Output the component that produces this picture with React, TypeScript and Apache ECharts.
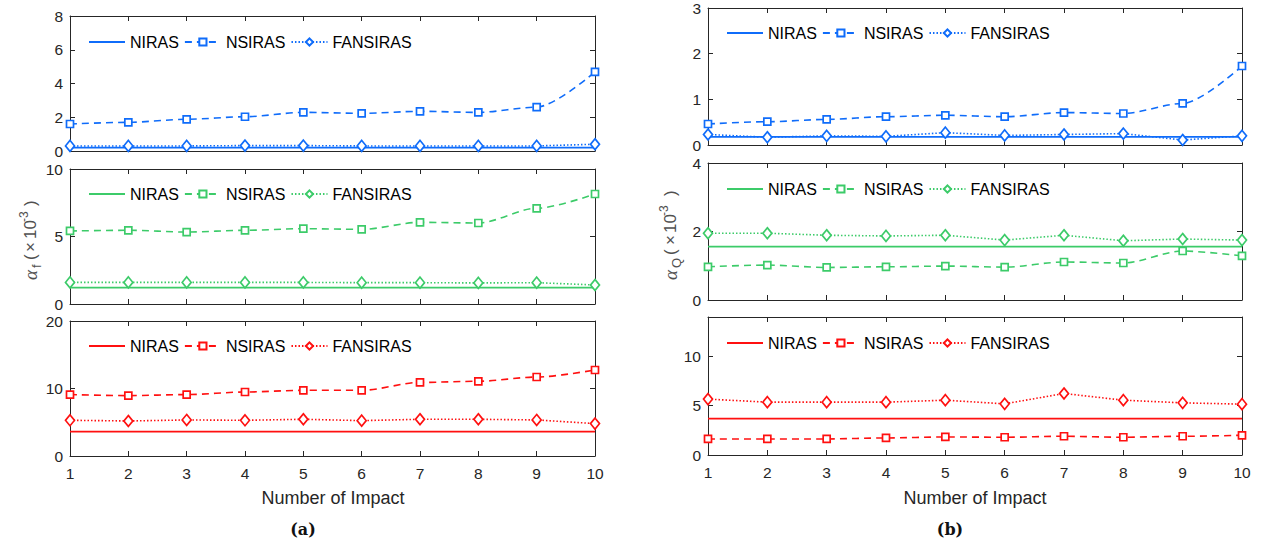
import React, { useEffect, useRef } from 'react';
import * as echarts from 'echarts';

const impacts = [1, 2, 3, 4, 5, 6, 7, 8, 9, 10];
const methodNames = ['NIRAS', 'NSIRAS', 'FANSIRAS'];

// (a) alpha_f (x 10^-3)
const fBlueNIRAS = [0.2, 0.2, 0.2, 0.2, 0.2, 0.2, 0.2, 0.2, 0.2, 0.2];
const fBlueNSIRAS = [1.6, 1.7, 1.88, 2.03, 2.29, 2.23, 2.35, 2.29, 2.6, 4.69];
const fBlueFANSIRAS = [0.3, 0.3, 0.3, 0.32, 0.32, 0.3, 0.3, 0.3, 0.3, 0.4];

const fGreenNIRAS = [1.21, 1.21, 1.21, 1.21, 1.21, 1.21, 1.21, 1.21, 1.21, 1.21];
const fGreenNSIRAS = [5.41, 5.46, 5.33, 5.46, 5.58, 5.53, 6.05, 6.0, 7.09, 8.15];
const fGreenFANSIRAS = [1.6, 1.6, 1.6, 1.6, 1.6, 1.58, 1.58, 1.56, 1.58, 1.41];

const fRedNIRAS = [3.6, 3.6, 3.6, 3.6, 3.6, 3.6, 3.6, 3.6, 3.6, 3.6];
const fRedNSIRAS = [9.1, 8.95, 9.1, 9.48, 9.73, 9.73, 10.9, 11.07, 11.7, 12.74];
const fRedFANSIRAS = [5.29, 5.19, 5.34, 5.29, 5.44, 5.24, 5.44, 5.44, 5.34, 4.8];

// (b) alpha_Q (x 10^-3)
const qBlueNIRAS = [0.18, 0.18, 0.18, 0.18, 0.18, 0.18, 0.18, 0.18, 0.18, 0.18];
const qBlueNSIRAS = [0.46, 0.51, 0.56, 0.62, 0.65, 0.62, 0.71, 0.69, 0.91, 1.73];
const qBlueFANSIRAS = [0.23, 0.17, 0.2, 0.19, 0.27, 0.21, 0.23, 0.25, 0.11, 0.2];

const qGreenNIRAS = [1.56, 1.56, 1.56, 1.56, 1.56, 1.56, 1.56, 1.56, 1.56, 1.56];
const qGreenNSIRAS = [0.97, 1.02, 0.95, 0.97, 0.99, 0.96, 1.11, 1.08, 1.43, 1.29];
const qGreenFANSIRAS = [1.95, 1.95, 1.89, 1.87, 1.89, 1.75, 1.89, 1.73, 1.78, 1.75];

const qRedNIRAS = [3.7, 3.7, 3.7, 3.7, 3.7, 3.7, 3.7, 3.7, 3.7, 3.7];
const qRedNSIRAS = [1.63, 1.63, 1.63, 1.73, 1.83, 1.8, 1.9, 1.8, 1.9, 2.0];
const qRedFANSIRAS = [5.67, 5.36, 5.36, 5.36, 5.56, 5.19, 6.24, 5.56, 5.29, 5.16];

// tick labels
const yTicksFBlue = [0, 2, 4, 6, 8];
const yTicksFGreen = [0, 5, 10];
const yTicksFRed = [0, 10, 20];
const yTicksQBlue = [0, 1, 2, 3];
const yTicksQGreen = [0, 2, 4];
const yTicksQRed = [0, 5, 10];

const BLUE = '#0F6CFA';
const GREEN = '#3CCB69';
const RED = '#FF1010';
const AX = '#262626';
const LAB = '#505050';
const SANS = '"Liberation Sans", Arial, sans-serif';

const panels = [
  { grid: { left: 70, top: 16, width: 525, height: 135 }, yMax: 8, yInt: 2, ticks: yTicksFBlue, color: BLUE, data: [fBlueNIRAS, fBlueNSIRAS, fBlueFANSIRAS], lg: [88, 42], showX: false },
  { grid: { left: 70, top: 169, width: 525, height: 135 }, yMax: 10, yInt: 5, ticks: yTicksFGreen, color: GREEN, data: [fGreenNIRAS, fGreenNSIRAS, fGreenFANSIRAS], lg: [88, 194], showX: false },
  { grid: { left: 70, top: 321, width: 525, height: 135 }, yMax: 20, yInt: 10, ticks: yTicksFRed, color: RED, data: [fRedNIRAS, fRedNSIRAS, fRedFANSIRAS], lg: [88, 346], showX: true },
  { grid: { left: 708, top: 7, width: 534, height: 138 }, yMax: 3, yInt: 1, ticks: yTicksQBlue, color: BLUE, data: [qBlueNIRAS, qBlueNSIRAS, qBlueFANSIRAS], lg: [726, 33], showX: false },
  { grid: { left: 708, top: 163, width: 534, height: 137 }, yMax: 4, yInt: 2, ticks: yTicksQGreen, color: GREEN, data: [qGreenNIRAS, qGreenNSIRAS, qGreenFANSIRAS], lg: [726, 189], showX: false },
  { grid: { left: 708, top: 317, width: 534, height: 138 }, yMax: 14, yInt: 5, ticks: yTicksQRed, color: RED, data: [qRedNIRAS, qRedNSIRAS, qRedFANSIRAS], lg: [726, 343], showX: true },
];

function buildOption() {
  const grid: any[] = [];
  const xAxis: any[] = [];
  const yAxis: any[] = [];
  const series: any[] = [];
  const legend: any[] = [];
  panels.forEach((p, i) => {
    grid.push({ ...p.grid, containLabel: false });
    const axLine = { show: true, onZero: false, lineStyle: { color: AX, width: 1 } };
    const tick = { show: true, inside: true, length: 5, lineStyle: { color: AX, width: 1 } };
    xAxis.push({
      gridIndex: i, type: 'value', min: 1, max: 10, interval: 1, position: 'bottom',
      axisLine: axLine, axisTick: tick, splitLine: { show: false },
      axisLabel: { show: p.showX, fontSize: 15.5, color: AX, fontFamily: SANS, margin: 9 },
    });
    xAxis.push({
      gridIndex: i, type: 'value', min: 1, max: 10, interval: 1, position: 'top',
      axisLine: axLine, axisTick: tick, splitLine: { show: false }, axisLabel: { show: false },
    });
    yAxis.push({
      gridIndex: i, type: 'value', min: 0, max: p.yMax, interval: p.yInt, position: 'left',
      axisLine: axLine, axisTick: { ...tick, customValues: p.ticks }, splitLine: { show: false },
      axisLabel: { fontSize: 15.5, color: AX, fontFamily: SANS, margin: 7, customValues: p.ticks },
    });
    yAxis.push({
      gridIndex: i, type: 'value', min: 0, max: p.yMax, interval: p.yInt, position: 'right',
      axisLine: axLine, axisTick: { ...tick, customValues: p.ticks }, splitLine: { show: false },
      axisLabel: { show: false },
    });
    const c = p.color;
    const pts = (arr: number[]) => impacts.map((x, k) => [x, arr[k]]);
    series.push({
      type: 'line', name: `${methodNames[0]}|${i}`, xAxisIndex: 2 * i, yAxisIndex: 2 * i,
      data: pts(p.data[0]), symbol: 'none', lineStyle: { color: c, width: 1.7 }, itemStyle: { color: c }, z: 2,
    });
    series.push({
      type: 'line', name: `${methodNames[1]}|${i}`, xAxisIndex: 2 * i, yAxisIndex: 2 * i,
      data: pts(p.data[1]), symbol: 'rect', symbolSize: 7, smooth: 0.3, smoothMonotone: 'x',
      lineStyle: { color: c, width: 1.6, type: [7, 5] },
      itemStyle: { color: '#fff', borderColor: c, borderWidth: 1.7 }, z: 3,
    });
    series.push({
      type: 'line', name: `${methodNames[2]}|${i}`, xAxisIndex: 2 * i, yAxisIndex: 2 * i,
      data: pts(p.data[2]), symbol: 'diamond', symbolSize: [9, 11],
      lineStyle: { color: c, width: 1.6, type: [1.5, 2] },
      itemStyle: { color: '#fff', borderColor: c, borderWidth: 1.7 }, z: 4,
    });
    legend.push({
      left: p.lg[0], top: p.lg[1] - 8, itemWidth: 36, itemHeight: 9, itemGap: 5, padding: 0,
      selectedMode: false, orient: 'horizontal',
      data: methodNames.map((n, k) =>
        k === 0
          ? { name: `${n}|${i}`, itemStyle: { color: 'transparent', borderColor: 'transparent', borderWidth: 0, opacity: 0 } }
          : { name: `${n}|${i}` }
      ),
      formatter: (name: string) => name.split('|')[0],
      textStyle: { fontSize: 16, color: '#000', fontFamily: SANS },
    });
  });

  // pieces of the rotated y label, offsets measured along the text direction
  const yLab = (x: number, y: number, sub: string, o: number[]) => {
    const t = (text: string, off: number, dy: number, font: string, extra: any = {}) => ({
      type: 'text', x: off, y: dy, style: { text, font, fill: LAB, verticalAlign: 'middle', ...extra },
    });
    return {
      type: 'group', x, y, rotation: Math.PI / 2,
      children: [
        t('α', o[0], 0, 'italic 19px "Liberation Serif", serif'),
        t(sub, o[1], 6, `13px ${SANS}`),
        t('(', o[2], 0, `17px ${SANS}`),
        t('×', o[3], 0, `17px ${SANS}`),
        t('10', o[4], 0, `17px ${SANS}`),
        t('-3', o[5], -6, `12px ${SANS}`),
        t(')', o[6], 0, `17px ${SANS}`),
      ],
    };
  };

  const graphic: any[] = [
    yLab(30, 280, 'f', [0, 12, 20, 28, 41, 58, 74]),
    yLab(670, 280, 'Q', [0, 12, 25, 35, 47, 64, 84]),
    { type: 'text', x: 333, y: 498, style: { text: 'Number of Impact', font: `18px ${SANS}`, fill: AX, align: 'center', verticalAlign: 'middle' } },
    { type: 'text', x: 975, y: 498, style: { text: 'Number of Impact', font: `18px ${SANS}`, fill: AX, align: 'center', verticalAlign: 'middle' } },
    { type: 'text', x: 303, y: 529, style: { text: '(a)', font: 'bold 16px "DejaVu Serif", serif', fill: '#111', align: 'center', verticalAlign: 'middle' } },
    { type: 'text', x: 950, y: 529, style: { text: '(b)', font: 'bold 16px "DejaVu Serif", serif', fill: '#111', align: 'center', verticalAlign: 'middle' } },
  ];

  return { animation: false, backgroundColor: '#fff', grid, xAxis, yAxis, series, legend, graphic };
}

export default function App() {
  const ref = useRef<HTMLDivElement>(null);
  useEffect(() => {
    if (!ref.current) return;
    const chart = echarts.init(ref.current, undefined, { renderer: 'svg' });
    chart.setOption(buildOption() as any);
    return () => chart.dispose();
  }, []);
  return <div ref={ref} style={{ position: 'absolute', left: 0, top: 0, width: 1268, height: 542 }} />;
}
